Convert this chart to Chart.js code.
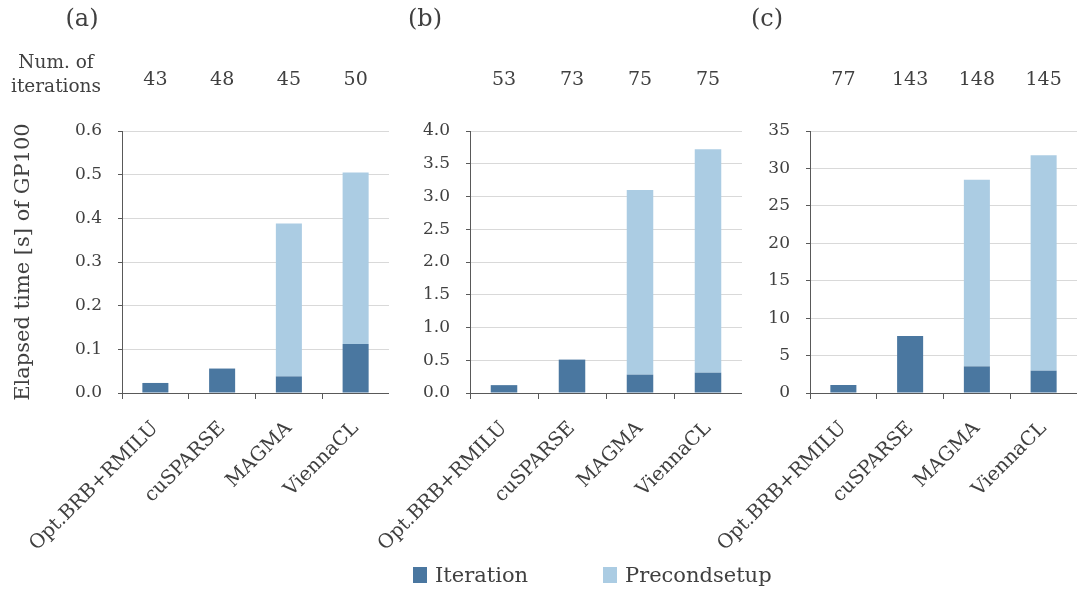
<!DOCTYPE html>
<html>
<head>
<meta charset="utf-8">
<script src="https://cdn.jsdelivr.net/npm/chart.js@4"></script>
<style>
  body { margin: 0; width: 1077px; height: 592px; background: #fff; position: relative; overflow: hidden;
         font-family: "DejaVu Serif", serif; color: #404040; }
  .panel { position: absolute; top: 0; height: 560px; }
  .txt { position: absolute; white-space: nowrap; transform: translate(-50%, -50%); }
  .leg { position: absolute; top: 563px; font-size: 21px; display: flex; align-items: center; }
  .leg i { display: inline-block; width: 14px; height: 16px; margin-right: 8px; }
</style>
</head>
<body>
<div class="panel" style="left:0;width:389px"><canvas id="chartA"></canvas></div>
<div class="panel" style="left:360px;width:382px"><canvas id="chartB"></canvas></div>
<div class="panel" style="left:700px;width:377px"><canvas id="chartC"></canvas></div>

<div class="txt" style="left:82px;top:18px;font-size:24px">(a)</div>
<div class="txt" style="left:425px;top:18px;font-size:24px">(b)</div>
<div class="txt" style="left:767px;top:18px;font-size:24px">(c)</div>
<div class="txt" style="left:56px;top:74px;font-size:18.5px;text-align:center;line-height:24px">Num. of<br>iterations</div>

<div class="leg" style="left:413px"><i style="background:#4a77a0"></i>Iteration</div>
<div class="leg" style="left:603px"><i style="background:#abcce3"></i>Precondsetup</div>

<script>
// カテゴリ
const categories = ['Opt.BRB+RMILU', 'cuSPARSE', 'MAGMA', 'ViennaCL'];

// (a)
const iterA = [0.023, 0.056, 0.038, 0.112];
const precA = [0, 0, 0.350, 0.393];
const countA = ['43', '48', '45', '50'];

// (b)
const iterB = [0.12, 0.51, 0.28, 0.31];
const precB = [0, 0, 2.82, 3.41];
const countB = ['53', '73', '75', '75'];

// (c)
const iterC = [1.07, 7.6, 3.56, 2.98];
const precC = [0, 0, 24.94, 28.77];
const countC = ['77', '143', '148', '145'];

const iterColor = '#4a77a0';
const precColor = '#abcce3';
const textColor = '#404040';
const axisColor = '#595959';
const fontFamily = '"DejaVu Serif", serif';

function noPad(s) {
  s.paddingLeft = 0;
  s.paddingRight = 0;
}

function drawPanel(id, iter, prec, counts, max, step, decimals, yWidth, yTitle) {
  let ctx = document.getElementById(id).getContext('2d');
  return new Chart(ctx, {
    type: 'bar',
    data: {
      labels: categories,
      datasets: [{
        label: 'Iteration',
        data: iter,
        backgroundColor: iterColor,
        barPercentage: 0.39,
        categoryPercentage: 1
      }, {
        label: 'Precondsetup',
        data: prec,
        backgroundColor: precColor,
        barPercentage: 0.39,
        categoryPercentage: 1
      }]
    },
    options: {
      responsive: true,
      maintainAspectRatio: false,
      animation: false,
      layout: { padding: 0 },
      plugins: {
        legend: { display: false },
        tooltip: { enabled: false }
      },
      scales: {
        x: {
          stacked: true,
          grid: { drawOnChartArea: false, tickColor: axisColor, tickLength: 6 },
          border: { color: axisColor, width: 1 },
          ticks: {
            color: textColor,
            font: { family: fontFamily, size: 19.5 },
            minRotation: 45,
            maxRotation: 45,
            padding: 18
          },
          afterFit: s => { s.height = 167; noPad(s); }
        },
        x2: {
          type: 'category',
          position: 'top',
          labels: counts,
          offset: true,
          grid: { display: false, drawTicks: false },
          border: { display: false },
          ticks: {
            color: textColor,
            font: { family: fontFamily, size: 19 },
            padding: 40
          },
          afterFit: s => { s.height = 131; noPad(s); }
        },
        y: {
          stacked: true,
          min: 0,
          max: max,
          ticks: {
            stepSize: step,
            color: textColor,
            font: { family: fontFamily, size: 17 },
            padding: 16,
            callback: v => Number(v).toFixed(decimals)
          },
          grid: { color: '#d9d9d9', tickColor: axisColor, tickLength: 4 },
          border: { color: axisColor, width: 1 },
          title: {
            display: !!yTitle,
            text: yTitle || '',
            color: textColor,
            font: { family: fontFamily, size: 21 },
            padding: { top: 11, bottom: 0 }
          },
          afterFit: s => { s.width = yWidth; }
        }
      }
    }
  });
}

drawPanel('chartA', iterA, precA, countA, 0.6, 0.1, 1, 122, 'Elapsed time [s] of GP100');
drawPanel('chartB', iterB, precB, countB, 4.0, 0.5, 1, 110, '');
drawPanel('chartC', iterC, precC, countC, 35, 5, 0, 110, '');
</script>
</body>
</html>
